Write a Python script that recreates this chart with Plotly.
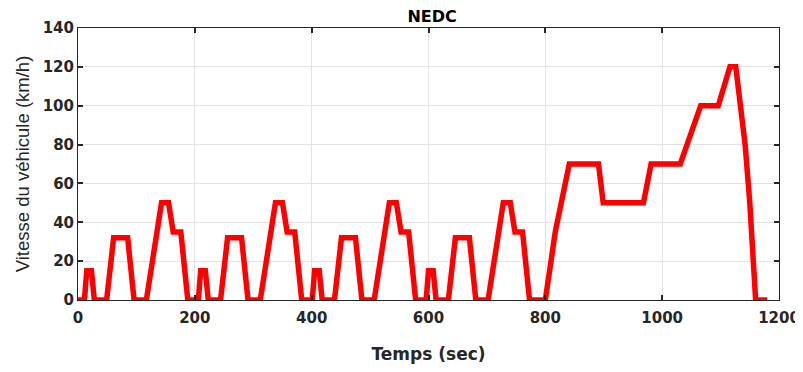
import plotly.graph_objects as go

# ECE-15 urban cycle (one repetition, 195 s)
ece_time = [0, 11, 15, 23, 28, 49, 61, 85, 96, 117, 143, 155, 163, 176, 188, 195]
ece_speed = [0, 0, 15, 15, 0, 0, 32, 32, 0, 0, 50, 50, 35, 35, 0, 0]
ece_repeats = 4
ece_period = 195

# EUDC extra-urban cycle
eudc_time = [780, 800, 817, 841, 891, 899, 968, 981, 1031, 1066, 1096, 1116, 1126, 1142, 1150, 1160, 1180]
eudc_speed = [0, 0, 35, 70, 70, 50, 50, 70, 70, 100, 100, 120, 120, 80, 50, 0, 0]

x_ticks = [0, 200, 400, 600, 800, 1000, 1200]
y_ticks = [0, 20, 40, 60, 80, 100, 120, 140]

time = []
speed = []
for k in range(ece_repeats):
    for t, v in zip(ece_time, ece_speed):
        time.append(t + k * ece_period)
        speed.append(v)
time += eudc_time
speed += eudc_speed

fig = go.Figure()
fig.add_trace(go.Scatter(x=time, y=speed, mode="lines",
                         line=dict(color="#ff0000", width=5.5),
                         showlegend=False))

axis_common = dict(
    showline=True, linecolor="#262626", linewidth=1, mirror="ticks",
    ticks="inside", ticklen=5, tickcolor="#262626", tickwidth=1.5,
    showgrid=True, gridcolor="#e3e3e3", gridwidth=1,
    zeroline=False, automargin=False,
    tickfont=dict(family="DejaVu Sans", size=15, color="#262626", weight="bold"),
)

fig.update_xaxes(range=[0, 1200], tickvals=x_ticks, **axis_common,
                 ticklabelstandoff=4,
                 title=dict(text="Temps (sec)", standoff=35,
                            font=dict(family="DejaVu Sans", size=17, color="#262626", weight="bold")))
fig.update_yaxes(range=[0, 140], tickvals=y_ticks, **axis_common,
                 title=dict(text="Vitesse du véhicule (km/h)", standoff=8,
                            font=dict(family="Liberation Sans", size=18.5, color="#262626")))

# page body has an 8px margin, so the figure is sized/offset to compensate
fig.update_layout(
    width=795, height=356,
    margin=dict(l=70, r=24, t=20, b=64),
    paper_bgcolor="white", plot_bgcolor="white",
    title=dict(text="NEDC", x=0.5335, xanchor="center", y=1 - 8 / 356, yanchor="middle",
               yref="container", automargin=False,
               font=dict(family="DejaVu Sans", size=16, color="#000000", weight="bold")),
)

fig.write_html("out.html")
